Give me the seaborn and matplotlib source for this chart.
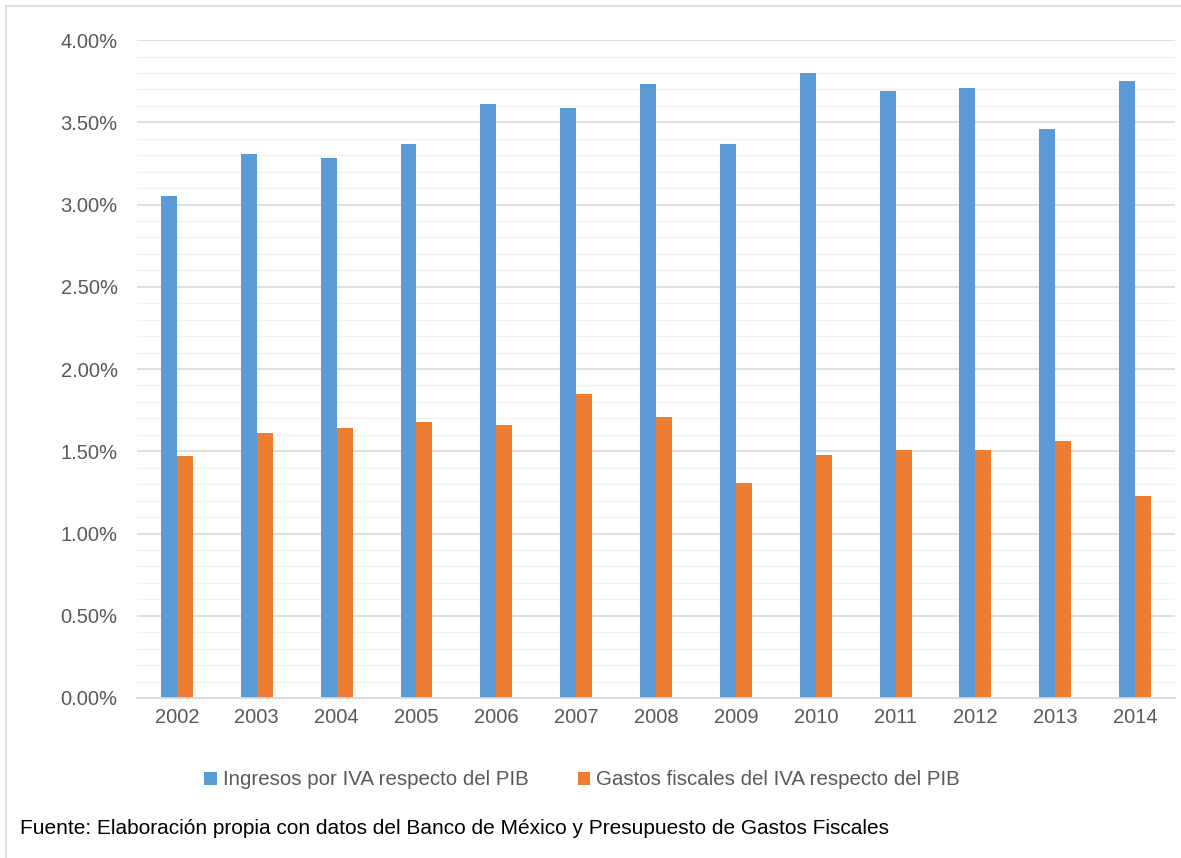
import matplotlib
matplotlib.use("Agg")
import matplotlib.pyplot as plt
import matplotlib.ticker as mticker
from matplotlib.patches import Patch
from matplotlib.lines import Line2D
import pandas as pd
import seaborn as sns

# data (percent of GDP)
years = ['2002', '2003', '2004', '2005', '2006', '2007', '2008',
         '2009', '2010', '2011', '2012', '2013', '2014']
ingresos_iva = [3.05, 3.31, 3.28, 3.37, 3.61, 3.59, 3.73,
                3.37, 3.80, 3.69, 3.71, 3.46, 3.75]
gastos_iva = [1.47, 1.61, 1.64, 1.68, 1.66, 1.85, 1.71,
              1.31, 1.48, 1.51, 1.51, 1.56, 1.23]
series_names = ['Ingresos por IVA respecto del PIB',
                'Gastos fiscales del IVA respecto del PIB']
colors = ['#5B9BD5', '#ED7D31']
source_text = 'Fuente: Elaboración propia con datos del Banco de México y Presupuesto de Gastos Fiscales'

df = pd.DataFrame({'year': years * 2,
                   'value': ingresos_iva + gastos_iva,
                   'serie': [series_names[0]] * len(years) + [series_names[1]] * len(years)})

sns.set_theme(style='white')
plt.rcParams['font.family'] = ['Liberation Sans', 'DejaVu Sans']

fig = plt.figure(figsize=(11.81, 8.58), dpi=100)
ax = fig.add_axes([0.116, 0.1865, 0.879, 0.7668])

sns.barplot(data=df, x='year', y='value', hue='serie', palette=colors,
            width=0.4, saturation=1, linewidth=0, ax=ax, legend=False)

ax.set_ylim(0, 4.0)
ax.set_xlim(-0.5, len(years) - 0.5)
ax.yaxis.set_major_locator(mticker.MultipleLocator(0.5))
ax.yaxis.set_minor_locator(mticker.MultipleLocator(0.1))
ax.yaxis.set_major_formatter(mticker.FuncFormatter(lambda v, p: f'{v:.2f}%'))
ax.grid(axis='y', which='major', color='#d9d9d9', linewidth=1.2)
ax.grid(axis='y', which='minor', color='#f2f2f2', linewidth=1.0)
ax.set_axisbelow(True)
ax.tick_params(axis='both', which='both', length=0, labelsize=14.5, labelcolor='#595959')
ax.tick_params(axis='y', pad=14)
ax.tick_params(axis='x', pad=7)
ax.set_xlabel('')
ax.set_ylabel('')
for s in ['top', 'right', 'left']:
    ax.spines[s].set_visible(False)
ax.spines['bottom'].set_color('#d9d9d9')
ax.spines['bottom'].set_linewidth(1.2)

handles = [Patch(facecolor=c, edgecolor='none') for c in colors]
fig.legend(handles, series_names, loc='center', bbox_to_anchor=(0.493, 0.091),
           ncol=2, frameon=False, fontsize=14.8, labelcolor='#595959',
           handlelength=0.6, handleheight=0.6, handletextpad=0.3, columnspacing=2.4)

fig.text(0.017, 0.034, source_text, fontsize=15, color='black', va='center', ha='left')

# outer chart border (left and top visible in the reference)
fig.add_artist(Line2D([0.0055, 0.0055], [0.0, 0.993], color='#d9d9d9', linewidth=1.2,
                      transform=fig.transFigure))
fig.add_artist(Line2D([0.0055, 1.0], [0.993, 0.993], color='#d9d9d9', linewidth=1.2,
                      transform=fig.transFigure))

fig.savefig('out.png', dpi=100)
